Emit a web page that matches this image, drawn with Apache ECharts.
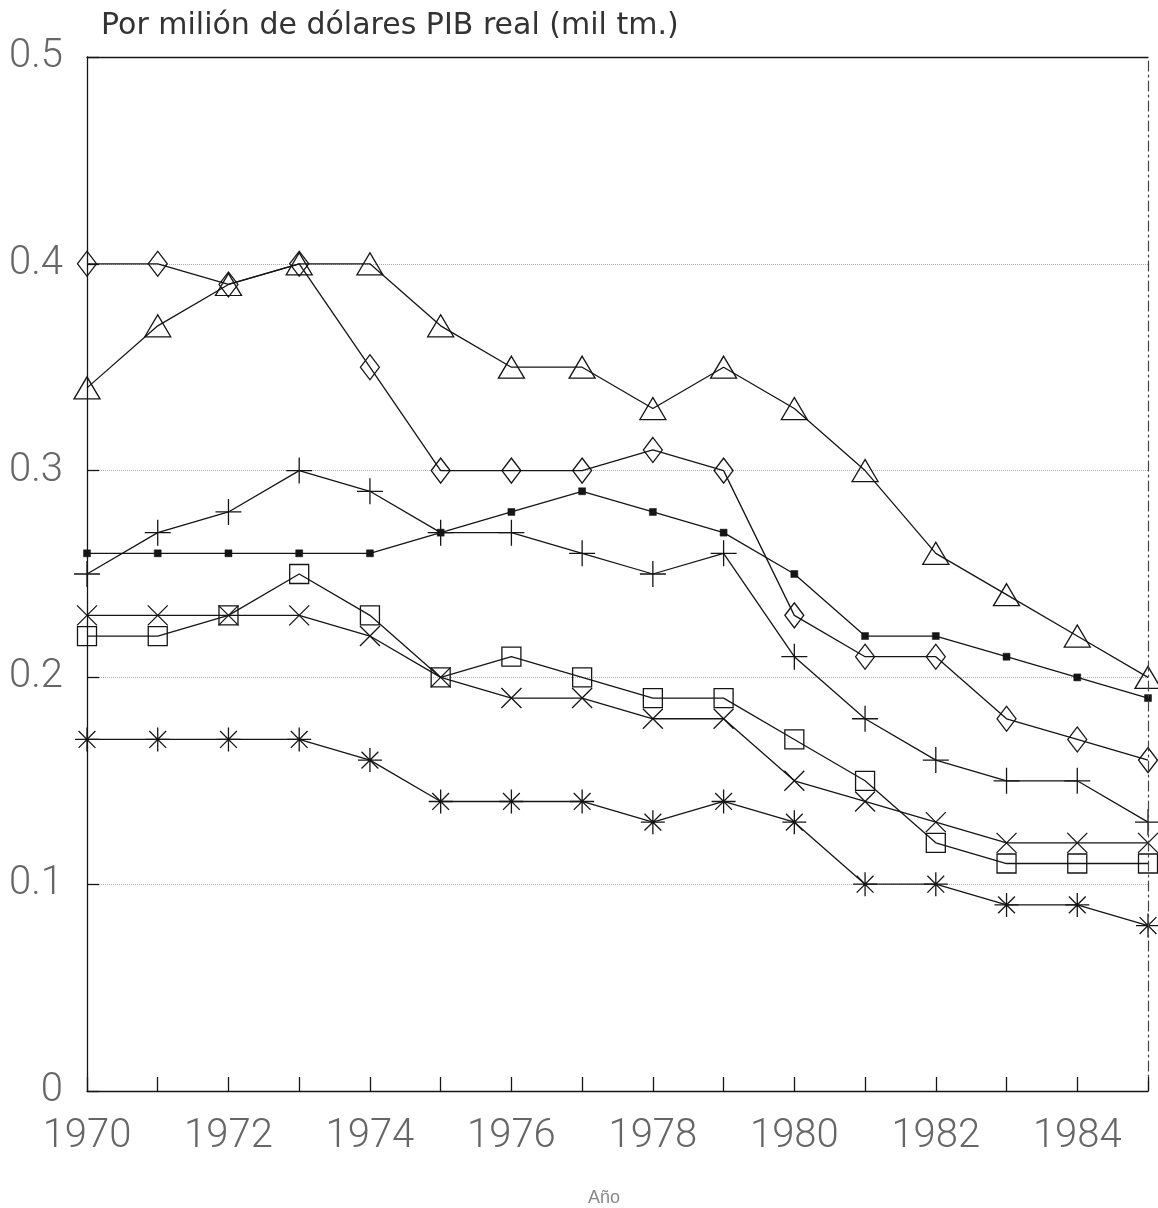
<!DOCTYPE html>
<html>
<head>
<meta charset="utf-8">
<script src="https://cdn.jsdelivr.net/npm/echarts@6/dist/echarts.min.js"></script>
<style>
html,body{margin:0;padding:0;background:#fff;}
#chart{width:1158px;height:1208px;}
</style>
</head>
<body>
<div id="chart"></div>
<script>
const years = [1970,1971,1972,1973,1974,1975,1976,1977,1978,1979,1980,1981,1982,1983,1984,1985];
const triangleSeries = [0.34,0.37,0.39,0.40,0.40,0.37,0.35,0.35,0.33,0.35,0.33,0.30,0.26,0.24,0.22,0.20];
const diamondSeries  = [0.40,0.40,0.39,0.40,0.35,0.30,0.30,0.30,0.31,0.30,0.23,0.21,0.21,0.18,0.17,0.16];
const plusSeries     = [0.25,0.27,0.28,0.30,0.29,0.27,0.27,0.26,0.25,0.26,0.21,0.18,0.16,0.15,0.15,0.13];
const dotSeries      = [0.26,0.26,0.26,0.26,0.26,0.27,0.28,0.29,0.28,0.27,0.25,0.22,0.22,0.21,0.20,0.19];
const squareSeries   = [0.22,0.22,0.23,0.25,0.23,0.20,0.21,0.20,0.19,0.19,0.17,0.15,0.12,0.11,0.11,0.11];
const crossSeries    = [0.23,0.23,0.23,0.23,0.22,0.20,0.19,0.19,0.18,0.18,0.15,0.14,0.13,0.12,0.12,0.12];
const starSeries     = [0.17,0.17,0.17,0.17,0.16,0.14,0.14,0.14,0.13,0.14,0.13,0.10,0.10,0.09,0.09,0.08];
const labeledYears = [1970,1972,1974,1976,1978,1980,1982,1984];
const yTicks = [0,0.1,0.2,0.3,0.4,0.5];
const titleText = 'Por milión de dólares PIB real (mil tm.)';
const xName = 'Año';

const chart = echarts.init(document.getElementById('chart'), null, {renderer:'canvas'});
const pairs = arr => years.map((y,i)=>[y,arr[i]]);
const ink = '#151515';
const hollow = {color:'rgba(0,0,0,0)', borderColor:ink, borderWidth:1.3};
function mk(data, symbol, size, itemStyle){
  return {
    type:'line', data:pairs(data), symbol:symbol, symbolSize:size,
    showAllSymbol:true, animation:false, xAxisIndex:0, yAxisIndex:0,
    lineStyle:{color:ink, width:1.3},
    itemStyle:itemStyle || hollow,
    emphasis:{disabled:true}, z:3
  };
}
const labelFont = {fontFamily:'Roboto, Liberation Sans, sans-serif', fontWeight:300, color:'#666', fontSize:40};

chart.setOption({
  backgroundColor:'#fff',
  animation:false,
  title:[
    {text:titleText, left:96, top:6, textStyle:{fontFamily:'DejaVu Sans, sans-serif', fontWeight:'normal', fontSize:30, color:'#333'}},
    {text:xName, left:583, top:1184, textStyle:{fontFamily:'Liberation Sans, sans-serif', fontWeight:'normal', fontSize:18, color:'#888'}}
  ],
  grid:{left:87, right:10, top:57, bottom:117, containLabel:false},
  xAxis:[
    {type:'value', min:1970, max:1985, interval:1, z:10,
     axisLine:{show:true, lineStyle:{color:ink, width:1.3}},
     axisTick:{show:true, inside:true, length:14, lineStyle:{color:ink, width:1.3}},
     axisLabel:Object.assign({margin:26, formatter:v => labeledYears.indexOf(v)>=0 ? String(v) : ''}, labelFont),
     splitLine:{show:false}},
    {type:'value', position:'top', min:1970, max:1985, interval:1, z:10,
     axisLine:{show:true, onZero:false, lineStyle:{color:ink, width:1.3}},
     axisTick:{show:false}, axisLabel:{show:false}, splitLine:{show:false}}
  ],
  yAxis:[
    {type:'value', min:0, max:0.5, interval:0.1, z:1,
     axisLine:{show:true, lineStyle:{color:ink, width:1.3}},
     axisTick:{show:true, inside:true, length:12, lineStyle:{color:ink, width:1.3}},
     axisLabel:Object.assign({margin:24, formatter:v => { const t = yTicks.find(k=>Math.abs(k-v)<1e-9); return t===undefined ? '' : String(t); }}, labelFont),
     splitLine:{show:true, lineStyle:{color:'#aaa', width:1, type:'dotted'}}},
    {type:'value', position:'right', min:0, max:0.5, interval:0.1, z:10,
     axisLine:{show:true, onZero:false, lineStyle:{color:'#444', width:1.2, type:[10,4,2,4]}},
     axisTick:{show:false}, axisLabel:{show:false}, splitLine:{show:false}}
  ],
  series:[
    mk(triangleSeries, 'triangle', [26,22]),
    mk(diamondSeries, 'diamond', [19,25]),
    mk(plusSeries, 'path://M0,5L10,5M5,0L5,10', [26,26]),
    mk(dotSeries, 'rect', 7, {color:ink, borderColor:ink, borderWidth:0.5}),
    mk(squareSeries, 'rect', [19,19]),
    mk(crossSeries, 'path://M0,0L10,10M10,0L0,10', [20,20]),
    mk(starSeries, 'path://M1.5,1.5L8.5,8.5M8.5,1.5L1.5,8.5M5,0L5,10M0,5L10,5', [24,24])
  ]
});
</script>
</body>
</html>
